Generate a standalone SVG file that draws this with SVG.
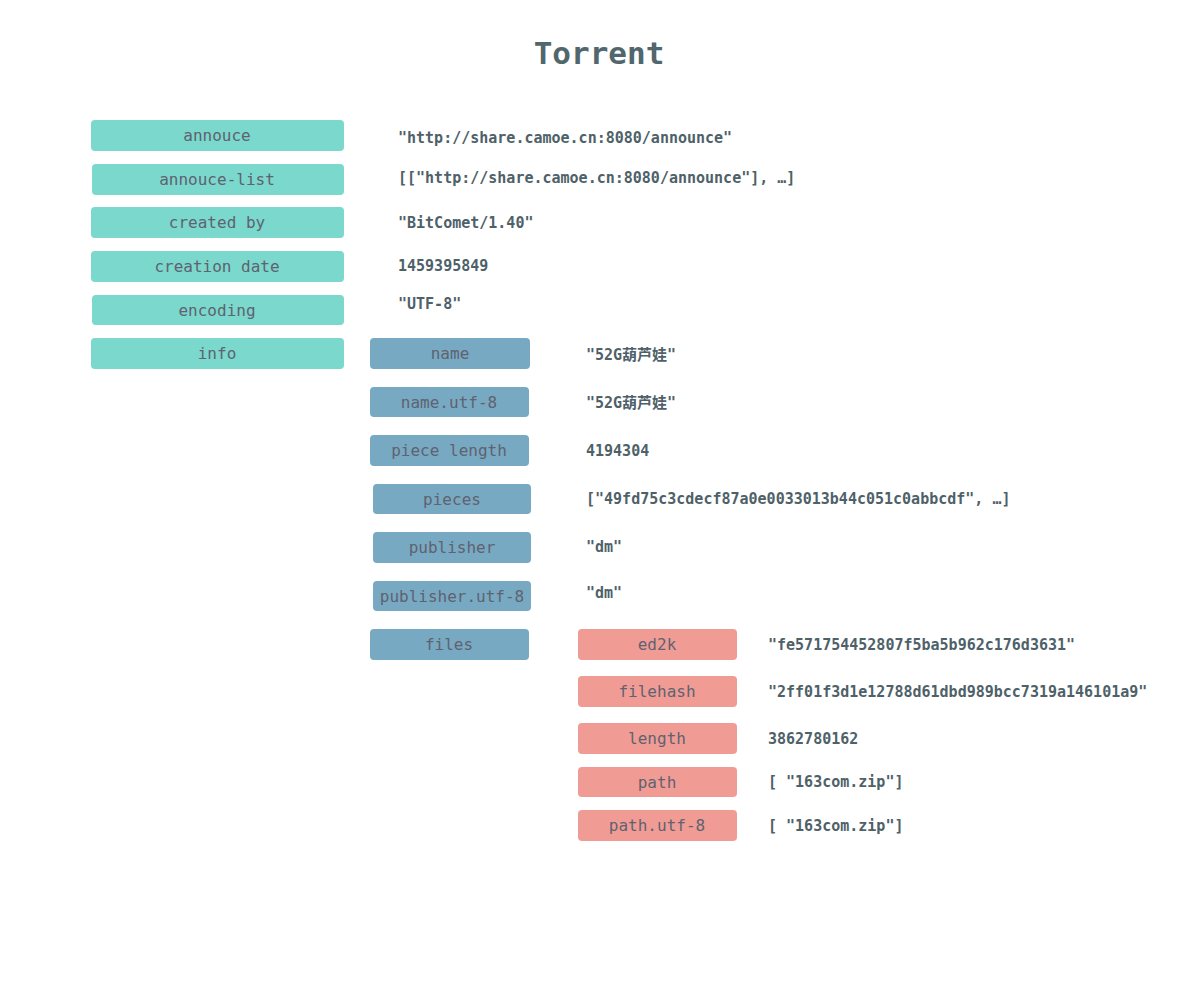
<svg xmlns="http://www.w3.org/2000/svg" width="1200" height="1000" viewBox="0 0 1200 1000">
<style>
.k{font-family:"DejaVu Sans Mono","Liberation Mono",monospace;font-size:16px;fill:#5f6270;text-anchor:middle}
.v{font-family:"DejaVu Sans Mono","Liberation Mono","Noto Sans CJK SC",monospace;font-size:15px;font-weight:bold;fill:#4e6168}
.t{font-family:"DejaVu Sans Mono","Liberation Mono",monospace;font-size:31px;font-weight:bold;fill:#51676e;text-anchor:middle}
.a{fill:#7ad8cc}
.b{fill:#78a9c2}
.c{fill:#f09c95}
</style>
<rect width="1200" height="1000" fill="#ffffff"/>
<text class="t" x="599" y="64">Torrent</text>
<g id="connectors"></g>
<g id="annouce"><rect class="a" x="91" y="120" width="253" height="31" rx="4"/><text class="k" x="217" y="141">annouce</text><text class="v" x="398" y="143">"http://share.camoe.cn:8080/announce"</text></g>
<g id="annouce-list"><rect class="a" x="92" y="164" width="252" height="31" rx="4"/><text class="k" x="217" y="185">annouce-list</text><text class="v" x="398" y="183">[["http://share.camoe.cn:8080/announce"], …]</text></g>
<g id="created-by"><rect class="a" x="91" y="207" width="253" height="31" rx="4"/><text class="k" x="217" y="228">created by</text><text class="v" x="398" y="228">"BitComet/1.40"</text></g>
<g id="creation-date"><rect class="a" x="91" y="251" width="253" height="31" rx="4"/><text class="k" x="217" y="272">creation date</text><text class="v" x="398" y="271">1459395849</text></g>
<g id="encoding"><rect class="a" x="92" y="295" width="252" height="30" rx="4"/><text class="k" x="217" y="316">encoding</text><text class="v" x="398" y="309">"UTF-8"</text></g>
<g id="info"><rect class="a" x="91" y="338" width="253" height="31" rx="4"/><text class="k" x="217" y="359">info</text></g>
<g id="name"><rect class="b" x="370" y="338" width="160" height="31" rx="4"/><text class="k" x="450" y="359">name</text><text class="v" x="586" y="360">"52G葫芦娃"</text></g>
<g id="name-utf-8"><rect class="b" x="370" y="387" width="159" height="30" rx="4"/><text class="k" x="449" y="408">name.utf-8</text><text class="v" x="586" y="408">"52G葫芦娃"</text></g>
<g id="piece-length"><rect class="b" x="370" y="435" width="159" height="31" rx="4"/><text class="k" x="449" y="456">piece length</text><text class="v" x="586" y="456">4194304</text></g>
<g id="pieces"><rect class="b" x="373" y="484" width="158" height="30" rx="4"/><text class="k" x="452" y="505">pieces</text><text class="v" x="586" y="504">["49fd75c3cdecf87a0e0033013b44c051c0abbcdf", …]</text></g>
<g id="publisher"><rect class="b" x="373" y="532" width="158" height="31" rx="4"/><text class="k" x="452" y="553">publisher</text><text class="v" x="586" y="552">"dm"</text></g>
<g id="publisher-utf-8"><rect class="b" x="373" y="581" width="158" height="30" rx="4"/><text class="k" x="452" y="602">publisher.utf-8</text><text class="v" x="586" y="598">"dm"</text></g>
<g id="files"><rect class="b" x="370" y="629" width="159" height="31" rx="4"/><text class="k" x="449" y="650">files</text></g>
<g id="ed2k"><rect class="c" x="578" y="629" width="159" height="31" rx="4"/><text class="k" x="657" y="650">ed2k</text><text class="v" x="768" y="650">"fe571754452807f5ba5b962c176d3631"</text></g>
<g id="filehash"><rect class="c" x="578" y="676" width="159" height="31" rx="4"/><text class="k" x="657" y="697">filehash</text><text class="v" x="768" y="697">"2ff01f3d1e12788d61dbd989bcc7319a146101a9"</text></g>
<g id="length"><rect class="c" x="578" y="723" width="159" height="31" rx="4"/><text class="k" x="657" y="744">length</text><text class="v" x="768" y="744">3862780162</text></g>
<g id="path"><rect class="c" x="578" y="767" width="159" height="30" rx="4"/><text class="k" x="657" y="788">path</text><text class="v" x="768" y="787">[ "163com.zip"]</text></g>
<g id="path-utf-8"><rect class="c" x="578" y="810" width="159" height="31" rx="4"/><text class="k" x="657" y="831">path.utf-8</text><text class="v" x="768" y="831">[ "163com.zip"]</text></g>
</svg>
